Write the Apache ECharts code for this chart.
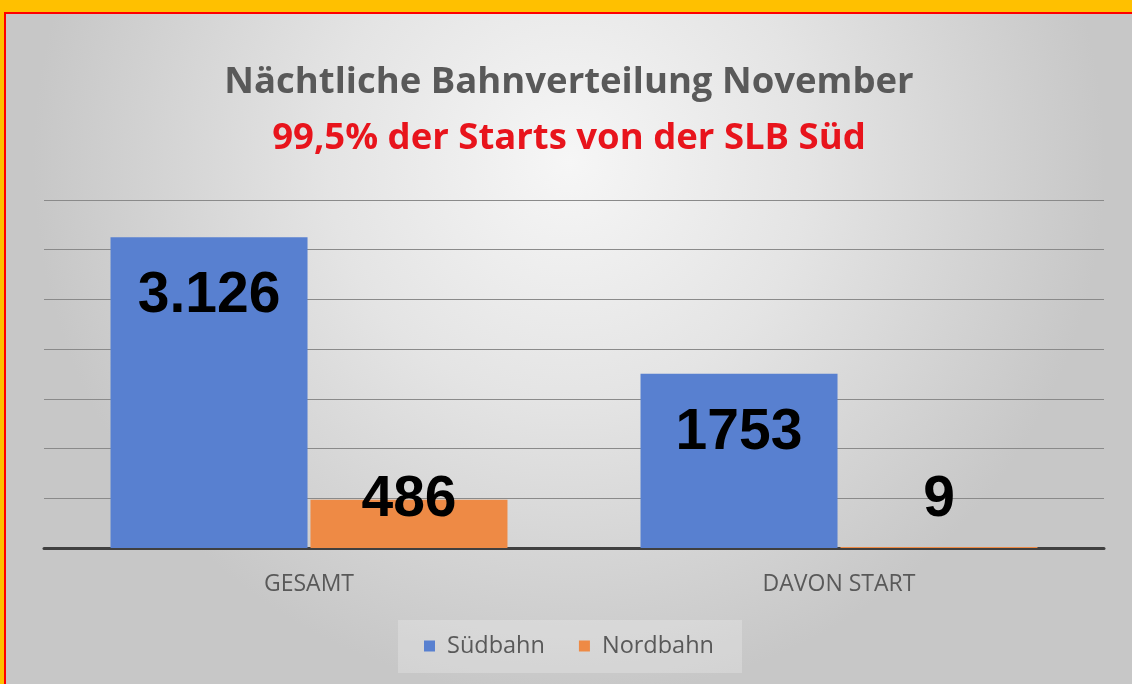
<!DOCTYPE html>
<html>
<head>
<meta charset="utf-8">
<script src="https://cdn.jsdelivr.net/npm/echarts@6/dist/echarts.min.js"></script>
<style>
  html, body { margin: 0; padding: 0; width: 1132px; height: 684px; overflow: hidden; background: #FFC000; }
  #wrap { position: absolute; left: 4px; top: 12px; width: 1128px; height: 672px; border-top: 2px solid #FF0000; border-left: 2px solid #FF0000; }
  #chart { width: 1126px; height: 670px; }
</style>
</head>
<body>
<div id="wrap"><div id="chart"></div></div>
<script>
const categories = ['GESAMT', 'DAVON START'];
const seriesNames = ['Südbahn', 'Nordbahn'];
const suedValues = [3126, 1753];
const nordValues = [486, 9];
const suedLabels = ['3.126', '1753'];
const nordLabels = ['486', '9'];
const yTicks = [0, 500, 1000, 1500, 2000, 2500, 3000, 3500];

const chart = echarts.init(document.getElementById('chart'), null, { renderer: 'canvas' });
const labelFont = { fontFamily: 'Liberation Sans', fontWeight: 'bold', fontSize: 57, color: '#000000' };

chart.setOption({
  animation: false,
  backgroundColor: {
    type: 'radial', x: 0.5, y: 0.22, r: 0.8,
    colorStops: [
      { offset: 0, color: '#f6f6f6' },
      { offset: 0.45, color: '#e4e4e4' },
      { offset: 1, color: '#c7c7c7' }
    ]
  },
  title: [
    {
      text: 'Nächtliche Bahnverteilung November',
      left: 'center', top: 45,
      textStyle: { fontFamily: 'Open Sans', fontWeight: 700, fontSize: 36.5, color: '#595959' }
    },
    {
      text: '99,5% der Starts von der SLB Süd',
      left: 'center', top: 101,
      textStyle: { fontFamily: 'Open Sans', fontWeight: 700, fontSize: 36.5, color: '#E8141C' }
    }
  ],
  legend: {
    data: seriesNames,
    left: 'center', top: 606,
    itemWidth: 11, itemHeight: 11, itemGap: 34,
    icon: 'rect',
    padding: [14, 28, 15, 26],
    backgroundColor: 'rgba(255,255,255,0.22)',
    textStyle: { fontFamily: 'Open Sans', fontSize: 23.5, color: '#595959', padding: [0, 0, 0, 7] }
  },
  grid: { left: 38, top: 186, width: 1060, height: 348, containLabel: false },
  xAxis: {
    type: 'category',
    data: categories,
    axisLine: { lineStyle: { color: '#404040', width: 3 } },
    axisTick: { show: false },
    axisLabel: { margin: 25, fontFamily: 'Open Sans', fontSize: 23, color: '#595959' }
  },
  yAxis: {
    type: 'value',
    min: yTicks[0], max: yTicks[yTicks.length - 1], interval: 500,
    axisLabel: { show: false },
    axisLine: { show: false },
    axisTick: { show: false },
    splitLine: { lineStyle: { color: '#8a8a8a', width: 1 } }
  },
  series: [
    {
      name: seriesNames[0], type: 'bar', barWidth: 197, barGap: '1.5%',
      itemStyle: { color: '#5880D0' },
      data: suedValues.map((v, i) => ({ value: v, label: { formatter: suedLabels[i] } })),
      label: Object.assign({ show: true, position: 'insideTop', distance: 31 }, labelFont)
    },
    {
      name: seriesNames[1], type: 'bar', barWidth: 197, barGap: '1.5%',
      itemStyle: { color: '#EE8A45' },
      data: nordValues.map((v, i) => ({ value: v, label: { formatter: nordLabels[i] } })),
      label: Object.assign({ show: true, position: 'insideBottom', distance: 19 }, labelFont)
    }
  ]
});
</script>
</body>
</html>
